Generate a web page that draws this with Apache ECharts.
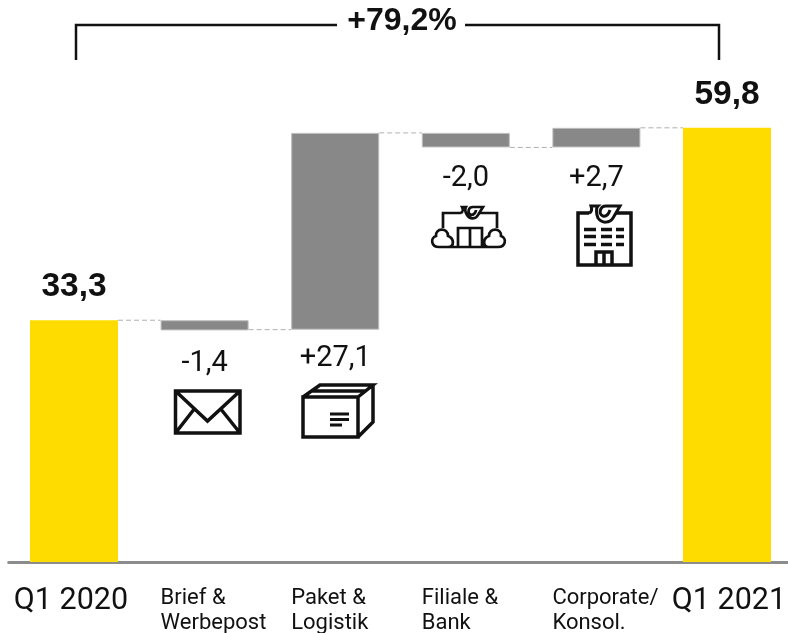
<!DOCTYPE html>
<html><head><meta charset="utf-8">
<style>html,body{margin:0;padding:0;background:#fff}#c{width:788px;height:633px}</style>
<script src="https://cdn.jsdelivr.net/npm/echarts@6/dist/echarts.min.js"></script>
</head><body><div id="c"></div>
<script>
const categories = ['Q1 2020','Brief &\nWerbepost','Paket &\nLogistik','Filiale &\nBank','Corporate/\nKonsol.','Q1 2021'];
const bases  = [0, 31.9, 32.0, 57.1, 57.1, 0];
const spans  = [33.3, 1.4, 27.1, 2.0, 2.7, 59.8];
const labels = ['33,3','-1,4','+27,1','-2,0','+2,7','59,8'];
const connectorLevels = [33.3, 32.0, 59.1, 57.1, 59.8];
const totalChange = '+79,2%';

const YELLOW = '#FFDC00', GREY = '#888888';
const isTotal = i => i === 0 || i === categories.length - 1;
const labelGap = [0, 19, 15, 17, 17, 0];

const icons = [
  // envelope
  {lw:3.5, d:'M175.5 391H240V433H175.5Z M175.5 391L207.5 421L240 391 M175.5 433L195 408 M240 433L220 408'},
  // parcel
  {lw:3.5, d:'M303 397H358V437H303Z M303 397L320 385H373L358 397 M373 385V422L358 437 M311 391H365'},
  {lw:3, d:'M330 414H349 M330 419.5H349 M330 425H342'},
  // branch
  {lw:2.7, d:'M443 228V213H461 M479 213H497V228 M458 247V228H482V247 M470 228V247 M441 247H497 M453 247H439C431 247 430 238 436 236C435 228 448 227 448 236C454 238 455 247 448 247 M485 247H498C506 247 507 238 501 236C502 228 489 227 489 236C483 238 482 247 489 247'},
  {lw:2.7, d:'M461 213C463 212 463 209 462 207H466C465 209 465 212 467 215C470 220 476 219 478 215L483 207H473C468 207 467 213 471 215C474 215 476 212 476 210'},
  // office
  {lw:3.5, d:'M589 213H578V265H631V213H616 M596 265V252H612V265 M604 252V265'},
  {lw:3.5, d:'M584 229.5H596 M601 229.5H612 M616 229.5H624 M584 236.5H596 M601 236.5H612 M616 236.5H624 M584 244.5H596 M601 244.5H612 M616 244.5H624'},
  {lw:3, d:'M589 213C592 212 592 209 591 206H598C596 208 596 214 598 218C602 224 610 223 613 218L620 206H606C600 206 598 214 603 216C607 217 609 213 610 210'}
];

const chart = echarts.init(document.getElementById('c'), null, {renderer:'canvas'});
chart.setOption({
  animation:false,
  backgroundColor:'#fff',
  grid:{left:8.7, right:-4.3, top:20, bottom:71, outerBoundsMode:'none'},
  xAxis:{
    type:'category', data:categories,
    axisTick:{show:false},
    axisLine:{lineStyle:{color:'#8c8c8c', width:3}},
    axisLabel:{
      interval:0, margin:24, hideOverlap:false,
      formatter:(v,i)=> i===0 ? '{q0|'+v+'}' : i===categories.length-1 ? '{q1|'+v+'}' : v.split('\n').map(s=>'{a|'+s+'}').join('\n'),
      rich:{
        q0:{fontFamily:'Roboto', fontSize:30.5, lineHeight:31, color:'#111', width:124, align:'center', padding:[0,6,0,0]},
        q1:{fontFamily:'Roboto', fontSize:30.5, lineHeight:31, color:'#111', width:126, align:'center', padding:[0,0,0,4]},
        a:{fontFamily:'Roboto', fontSize:22, lineHeight:25, color:'#111', width:88, align:'left'}
      }
    }
  },
  yAxis:{type:'value', min:0, max:74.65, show:false, splitLine:{show:false}},
  series:[
    {type:'bar', stack:'w', barWidth:88, silent:true, data:bases, itemStyle:{color:'transparent'}},
    {type:'bar', stack:'w', barWidth:88, silent:true,
     data:spans.map((v,i)=>({
       value:v,
       itemStyle: isTotal(i) ? {color:YELLOW} : {color:GREY, borderColor:'#bdbdbd', borderWidth:1},
       label:{
         show:true, formatter:labels[i],
         position:isTotal(i)?'top':'bottom',
         distance:isTotal(i)?16:labelGap[i],
         fontFamily:isTotal(i)?'Liberation Sans':'Roboto',
         fontWeight:isTotal(i)?'bold':'normal',
         fontSize:isTotal(i)?33.5:29,
         color:'#111'
       }
     }))},
    {type:'custom', silent:true, coordinateSystem:'cartesian2d', encode:{x:0,y:1},
     data:connectorLevels.map((v,i)=>[i,v]),
     renderItem:(p,api)=>{
       const c = api.coord([api.value(0), api.value(1)]);
       const band = api.size([1,0])[0];
       return {type:'line', shape:{x1:c[0]+44, y1:c[1], x2:c[0]+band-44, y2:c[1]},
               style:{stroke:'#b0b0b0', lineWidth:1, lineDash:[5,3], fill:null}};
     }},
    {type:'custom', silent:true, coordinateSystem:'none', clip:false,
     data:icons.map((_, i)=>[i]),
     renderItem:(p,api)=>{
       const ic = icons[api.value(0)];
       return {type:'path', shape:{pathData:ic.d}, style:{stroke:'#111', lineWidth:ic.lw, fill:null}};
     }}
  ],
  graphic:[
    {type:'polyline', shape:{points:[[76,60],[76,25],[337,25]]}, style:{stroke:'#111', lineWidth:2.5, fill:null}},
    {type:'polyline', shape:{points:[[465,25],[719,25],[719,60]]}, style:{stroke:'#111', lineWidth:2.5, fill:null}},
    {type:'text', x:402, y:21, style:{text:totalChange, fontFamily:'Liberation Sans', fontWeight:'bold', fontSize:32, fill:'#111', align:'center', verticalAlign:'middle'}}
  ]
});
</script></body></html>
